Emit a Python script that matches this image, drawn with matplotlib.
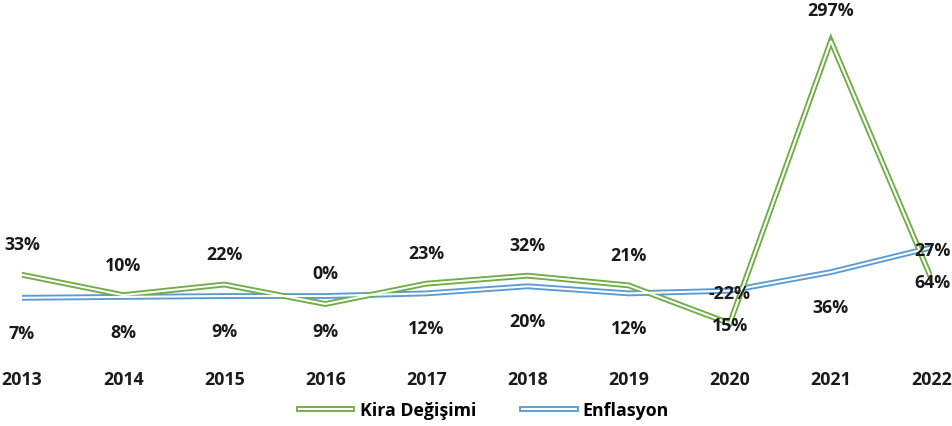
import matplotlib
matplotlib.use("Agg")
import matplotlib.pyplot as plt
from matplotlib.lines import Line2D

years = ["2013", "2014", "2015", "2016", "2017", "2018", "2019", "2020", "2021", "2022"]
kira = [33, 10, 22, 0, 23, 32, 21, -22, 297, 27]
enflasyon = [7, 8, 9, 9, 12, 20, 12, 15, 36, 64]

GREEN = "#70ad47"
BLUE = "#5b9bd5"

plt.rcParams["font.family"] = ["Open Sans", "DejaVu Sans"]

W, H = 953, 427
fig = plt.figure(figsize=(W / 100, H / 100), dpi=100)
# plot area in pixels: x 22..932, y 0..360
ax = fig.add_axes([22 / W, (H - 360) / H, (932 - 22) / W, 360 / H])
px_per = 263 / 297
ax.set_xlim(0, 9)
ax.set_ylim(-(360 - 305) / px_per, 305 / px_per)

x = list(range(len(years)))


def double_line(vals, color):
    ax.plot(x, vals, color=color, lw=4.2, solid_joinstyle="miter", zorder=2)
    ax.plot(x, vals, color="white", lw=1.5, solid_joinstyle="miter", zorder=3)


double_line(enflasyon, BLUE)
double_line(kira, GREEN)

lbl = dict(ha="center", va="center", fontsize=12.8, fontweight="bold", color="#1a1a1a", zorder=5)
for xi, v in zip(x, kira):
    ax.annotate(f"{v}%", (xi, v), xytext=(0, 22), textcoords="offset points", **lbl)
for xi, v in zip(x, enflasyon):
    ax.annotate(f"{v}%", (xi, v), xytext=(0, -25), textcoords="offset points", **lbl)

ax.set_xticks(x)
ax.set_xticklabels(years, fontsize=12.8, fontweight="bold", color="#1a1a1a")
ax.tick_params(axis="x", length=0, pad=8)
ax.set_yticks([])
for s in ax.spines.values():
    s.set_visible(False)
ax.patch.set_alpha(0)

handles = [
    (Line2D([], [], color=GREEN, lw=4.2), Line2D([], [], color="white", lw=1.5)),
    (Line2D([], [], color=BLUE, lw=4.2), Line2D([], [], color="white", lw=1.5)),
]
fig.legend(handles, ["Kira Değişimi", "Enflasyon"], loc="center",
           bbox_to_anchor=(484 / W, 1 - 411 / H), ncol=2, frameon=False,
           prop={"size": 12.8, "weight": "bold"}, handlelength=3.0, columnspacing=2.6,
           handletextpad=0.4)

fig.savefig("out.png", dpi=100)
